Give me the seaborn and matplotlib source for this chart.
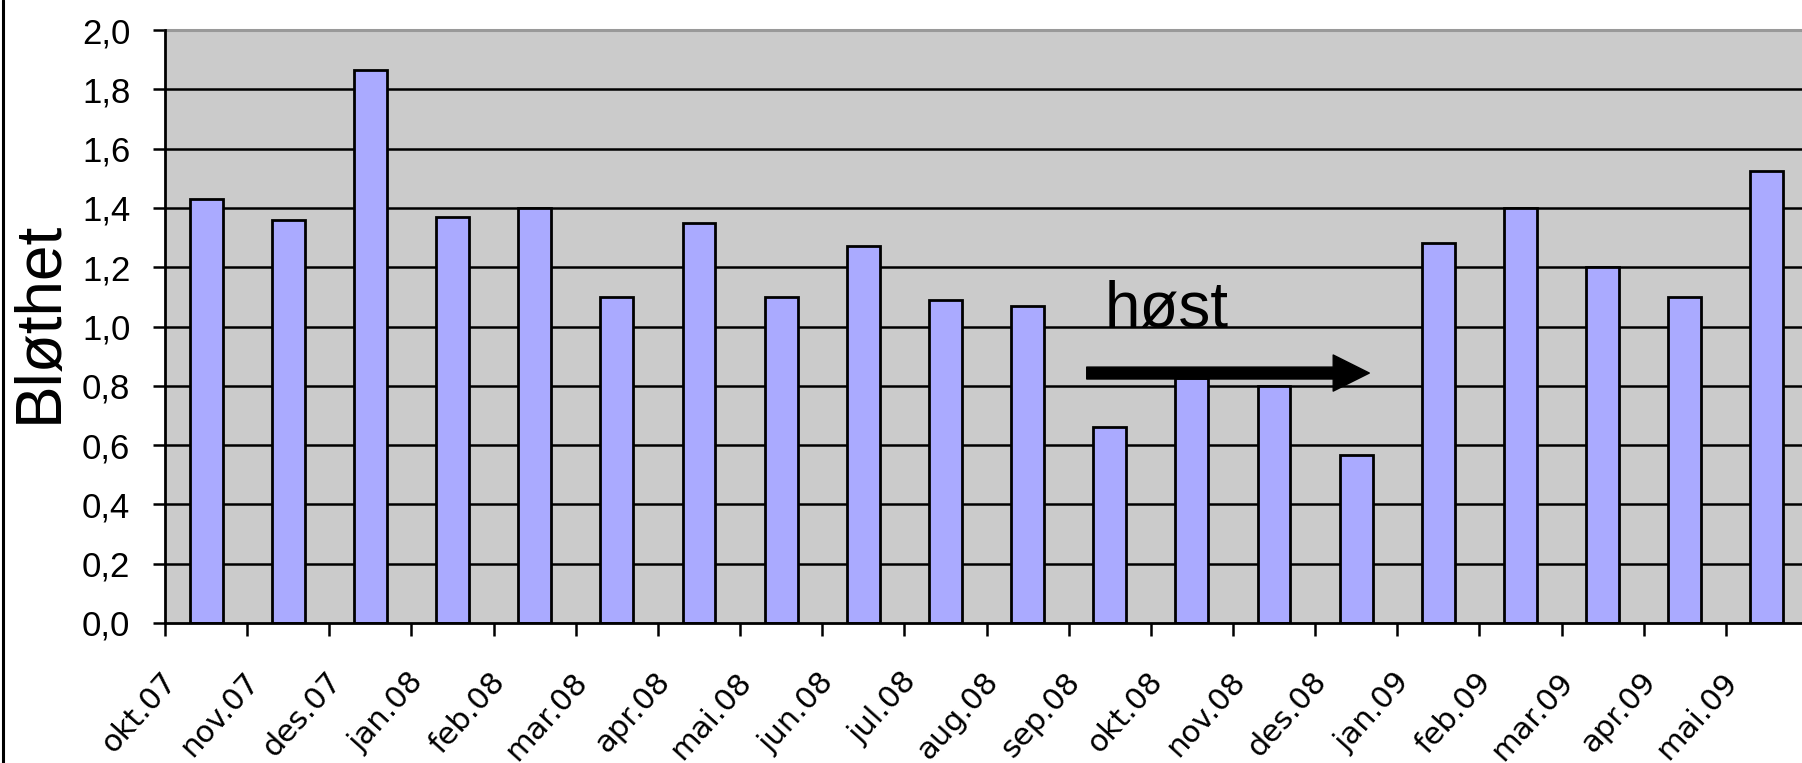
import matplotlib
matplotlib.use("Agg")
import matplotlib.pyplot as plt
import matplotlib.transforms as mtransforms
from matplotlib.lines import Line2D
import seaborn as sns
import pandas as pd

months = ["okt.07", "nov.07", "des.07", "jan.08", "feb.08", "mar.08", "apr.08",
          "mai.08", "jun.08", "jul.08", "aug.08", "sep.08", "okt.08", "nov.08",
          "des.08", "jan.09", "feb.09", "mar.09", "apr.09", "mai.09"]
blothet = [1.43, 1.36, 1.865, 1.37, 1.40, 1.10, 1.35, 1.10, 1.27, 1.09, 1.07,
           0.66, 0.825, 0.80, 0.567, 1.28, 1.40, 1.20, 1.10, 1.525]
y_ticks = [0.0, 0.2, 0.4, 0.6, 0.8, 1.0, 1.2, 1.4, 1.6, 1.8, 2.0]
y_tick_labels = ["0,0", "0,2", "0,4", "0,6", "0,8", "1,0", "1,2", "1,4", "1,6", "1,8", "2,0"]

df = pd.DataFrame({"month": months, "value": blothet})

sns.set_style("white")
plt.rcParams["font.family"] = ["Liberation Sans", "DejaVu Sans"]
plt.rcParams["text.color"] = "black"
plt.rcParams["xtick.color"] = "black"
plt.rcParams["ytick.color"] = "black"
plt.rcParams["xtick.labelcolor"] = "black"
plt.rcParams["ytick.labelcolor"] = "black"

W, H = 1802, 763
fig = plt.figure(figsize=(W / 100, H / 100), dpi=100)
ax = fig.add_axes([165 / W, 140 / H, (1808 - 165) / W, 593 / H])
ax.set_facecolor("#CBCBCB")

sns.barplot(data=df, x="month", y="value", color="#AAAAFF", saturation=1,
            edgecolor="black", linewidth=2.0, width=0.4, ax=ax, zorder=3)

ax.set_xlim(-0.5, len(months) - 0.5)
ax.set_ylim(0, 2.0)
ax.set_yticks(y_ticks)
ax.set_yticklabels(y_tick_labels)
ax.tick_params(axis="y", direction="out", length=9, width=1.8, pad=16,
               labelsize=25, colors="black", left=True)

# gridlines
for yv in y_ticks[1:-1]:
    ax.axhline(yv, color="black", lw=1.8, zorder=1)

# x ticks: labels at centers, tick marks at boundaries
ax.set_xticks(range(len(months)))
ax.set_xticks([i - 0.5 for i in range(len(months) + 1)], minor=True)
ax.tick_params(axis="x", which="major", length=0, pad=0, colors="black")
ax.tick_params(axis="x", which="minor", direction="out", length=9, width=1.8,
               bottom=True, colors="black")
ax.set_xticklabels(months, rotation=48, ha="right", va="top",
                   rotation_mode="anchor", fontsize=22, family="DejaVu Sans",
                   color="black")
offset = mtransforms.ScaledTranslation(-45 / 100, -44 / 100, fig.dpi_scale_trans)
for lbl in ax.get_xticklabels():
    lbl.set_transform(lbl.get_transform() + offset)

ax.set_xlabel("")
ax.set_ylabel("")

for side in ["left", "bottom"]:
    ax.spines[side].set_color("black")
    ax.spines[side].set_linewidth(2.0)
    ax.spines[side].set_zorder(4)
ax.spines["top"].set_color("#999999")
ax.spines["top"].set_linewidth(2.2)
ax.spines["right"].set_visible(False)

fig.text(40 / W, 1 - 322 / H, "Bløthet", rotation=90, ha="center", va="center",
         fontsize=46, color="black")

# annotation
ax.annotate("", xy=(14.16, 0.843), xytext=(10.72, 0.843),
            arrowprops=dict(arrowstyle="simple,head_length=1.0,head_width=1.0,tail_width=0.33",
                            mutation_scale=26, color="black", shrinkA=0, shrinkB=0),
            zorder=5)
ax.text(10.94, 0.998, "høst", fontsize=46, ha="left", va="baseline",
        color="black", zorder=5)

# outer chart border on left
fig.add_artist(Line2D([3 / W, 3 / W], [0, 1], color="black", lw=2.2))

fig.savefig("out.png", dpi=100)
